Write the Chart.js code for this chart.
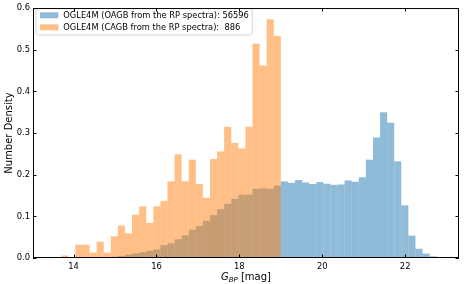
<!DOCTYPE html>
<html>
<head>
<meta charset="utf-8">
<script src="https://cdn.jsdelivr.net/npm/chart.js@4.4.0/dist/chart.umd.min.js"></script>
<style>
  html, body { margin: 0; padding: 0; background: #fff; }
</style>
</head>
<body>
<canvas id="chart" width="469" height="284"></canvas>
<script>
// histogram bins (G_BP magnitude)
const binStart = 13.70;
const binWidth = 0.171;

// OAGB sample, 54 bins
const oagbDensity = [
  0, 0, 0.0003, 0.0005, 0.001, 0.0015, 0.002, 0.003, 0.005, 0.008,
  0.011, 0.014, 0.0174, 0.0205, 0.031, 0.0355, 0.045, 0.0545, 0.068, 0.0766,
  0.089, 0.1026, 0.1168, 0.130, 0.142, 0.1516, 0.1524, 0.1658, 0.1674, 0.1658,
  0.1737, 0.184, 0.1805, 0.187, 0.1813, 0.1777, 0.1824, 0.1782, 0.1755, 0.1765,
  0.186, 0.183, 0.194, 0.236, 0.289, 0.350, 0.3245, 0.232, 0.1265, 0.0537,
  0.022, 0.0105, 0.004, 0.0015
];

// CAGB sample, 31 bins
const cagbDensity = [
  0.006, 0, 0.032, 0.032, 0.013, 0.039, 0.013, 0.052, 0.078, 0.059,
  0.104, 0.124, 0.0845, 0.124, 0.137, 0.184, 0.249, 0.184, 0.236, 0.178,
  0.1443, 0.2376, 0.2558, 0.315, 0.276, 0.263, 0.315, 0.514, 0.462, 0.573,
  0.533
];

const seriesLabels = [
  'OGLE4M (OAGB from the RP spectra): 56596',
  'OGLE4M (CAGB from the RP spectra):  886'
];
const xTicks = [14, 16, 18, 20, 22];
const yTicks = [0, 0.1, 0.2, 0.3, 0.4, 0.5, 0.6];

const blue = 'rgba(31, 119, 180, 0.5)';
const orange = 'rgba(255, 127, 14, 0.5)';
const FONT = '"DejaVu Sans", sans-serif';

const toPoints = (arr) => arr.map((v, i) => ({ x: binStart + (i + 0.5) * binWidth, y: v }));

// frame, inward ticks, legend and x title in matplotlib style
const decor = {
    id: 'decor',
    afterDraw(chart) {
        const { ctx, chartArea: a, scales: { x, y } } = chart;
        ctx.save();

        // legend
        const rows = chart.data.datasets;
        ctx.font = '8.3px ' + FONT;
        const textW = Math.max(...rows.map(d => ctx.measureText(d.label).width));
        const bx = 36, by = 8.5, bw = 63.3 + textW + 3.5 - bx, bh = 26.5;
        ctx.beginPath();
        ctx.roundRect(bx, by, bw, bh, 2);
        ctx.fillStyle = 'rgba(255,255,255,0.8)';
        ctx.fill();
        ctx.strokeStyle = '#cccccc';
        ctx.lineWidth = 0.8;
        ctx.stroke();
        rows.forEach((d, i) => {
            const cy = 15.3 + i * 12;
            ctx.fillStyle = d.backgroundColor;
            ctx.fillRect(40, cy - 3, 18.3, 6);
            ctx.fillStyle = '#000';
            ctx.textBaseline = 'middle';
            ctx.textAlign = 'left';
            ctx.fillText(d.label, 63.3, cy + 0.3);
        });

        // frame
        ctx.strokeStyle = '#000';
        ctx.lineWidth = 1;
        ctx.strokeRect(a.left + 0.5, a.top + 0.5, a.right - a.left - 1, a.bottom - a.top - 1);

        // inward ticks on all sides
        const len = 3.5;
        ctx.beginPath();
        xTicks.forEach(v => {
            const px = Math.round(x.getPixelForValue(v)) + 0.5;
            ctx.moveTo(px, a.bottom); ctx.lineTo(px, a.bottom - len);
            ctx.moveTo(px, a.top); ctx.lineTo(px, a.top + len);
        });
        yTicks.forEach(v => {
            const py = Math.round(y.getPixelForValue(v)) + 0.5;
            ctx.moveTo(a.left, py); ctx.lineTo(a.left + len, py);
            ctx.moveTo(a.right, py); ctx.lineTo(a.right - len, py);
        });
        ctx.stroke();

        // x title: G_BP [mag]
        const cx = (a.left + a.right) / 2;
        const base = 279.5;
        ctx.textBaseline = 'alphabetic';
        ctx.textAlign = 'left';
        ctx.font = 'italic 10px ' + FONT;
        const gW = ctx.measureText('G').width;
        ctx.font = 'italic 7px ' + FONT;
        const sW = ctx.measureText('BP').width;
        ctx.font = '10px ' + FONT;
        const rW = ctx.measureText(' [mag]').width;
        let sx = cx - (gW + sW + rW) / 2;
        ctx.fillStyle = '#000';
        ctx.font = 'italic 10px ' + FONT;
        ctx.fillText('G', sx, base);
        sx += gW;
        ctx.font = 'italic 7px ' + FONT;
        ctx.fillText('BP', sx, base + 2.3);
        sx += sW;
        ctx.font = '10px ' + FONT;
        ctx.fillText(' [mag]', sx, base);

        ctx.restore();
    }
};

const ctx = document.getElementById('chart').getContext('2d');

new Chart(ctx, {
    type: 'bar',
    data: {
        datasets: [
            {
                label: seriesLabels[0],
                data: toPoints(oagbDensity),
                backgroundColor: blue,
                borderWidth: 0,
                inflateAmount: 0,
                order: 1
            },
            {
                label: seriesLabels[1],
                data: toPoints(cagbDensity),
                backgroundColor: orange,
                borderWidth: 0,
                inflateAmount: 0,
                order: 0
            }
        ]
    },
    options: {
        responsive: false,
        animation: false,
        devicePixelRatio: 1,
        grouped: false,
        barPercentage: 1,
        categoryPercentage: 1,
        layout: { padding: { top: 5, right: 10, left: 0, bottom: 0 } },
        plugins: {
            legend: { display: false },
            tooltip: { enabled: false }
        },
        scales: {
            x: {
                type: 'linear',
                offset: false,
                min: 13.02,
                max: 23.30,
                grid: { display: false, drawTicks: false },
                border: { display: false },
                afterBuildTicks: (s) => { s.ticks = xTicks.map(v => ({ value: v })); },
                afterFit: (s) => { s.height = 26; },
                ticks: {
                    color: '#000',
                    padding: 3.5,
                    maxRotation: 0,
                    font: { family: FONT, size: 8.4 },
                    callback: (v) => String(v)
                }
            },
            y: {
                min: 0,
                max: 0.6,
                grid: { display: false, drawTicks: false },
                border: { display: false },
                afterBuildTicks: (s) => { s.ticks = yTicks.map(v => ({ value: v })); },
                afterFit: (s) => { s.width = 33; },
                title: {
                    display: true,
                    text: 'Number Density',
                    color: '#000',
                    font: { family: FONT, size: 10 },
                    padding: { top: 3.5, bottom: 0 }
                },
                ticks: {
                    color: '#000',
                    padding: 3,
                    font: { family: FONT, size: 8.4 },
                    callback: (v) => Number(v).toFixed(1)
                }
            }
        }
    },
    plugins: [decor]
});
</script>
</body>
</html>
